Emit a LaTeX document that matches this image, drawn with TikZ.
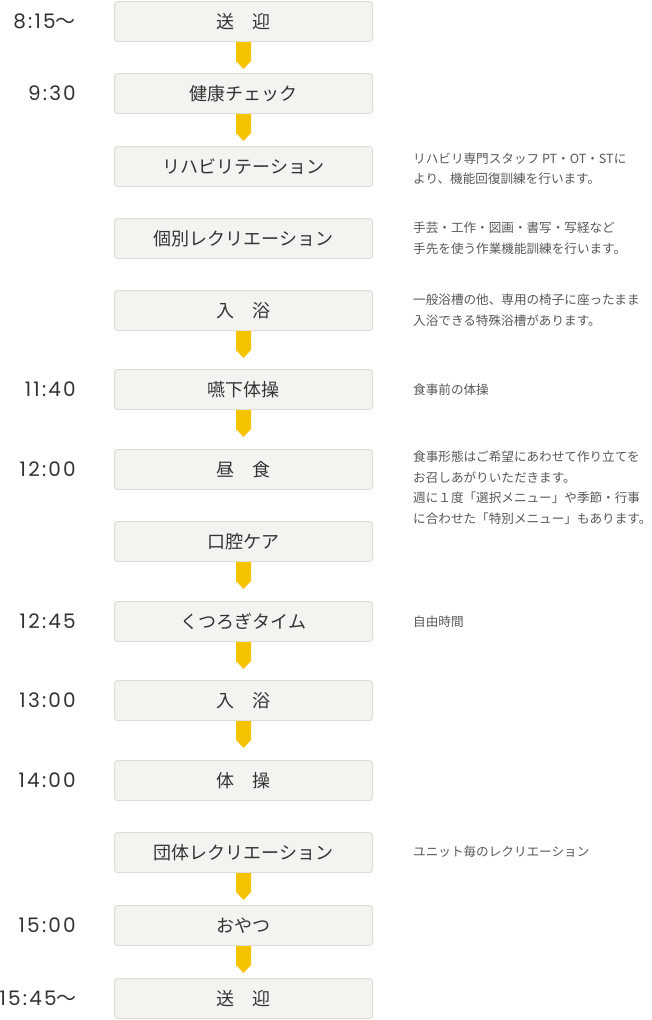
\documentclass[tikz,border=0pt]{standalone}
\usepackage{fontspec}
\setmainfont{Noto Sans CJK JP}
\newfontfamily\jpfont{Noto Sans CJK JP}
\newfontfamily\timefont[LetterSpace=11]{Poppins}
\usetikzlibrary{arrows.meta}
\definecolor{boxfill}{HTML}{F4F3EF}
\definecolor{boxline}{HTML}{DFDDD7}
\definecolor{arrowc}{HTML}{F6C300}
\definecolor{txt}{HTML}{333333}
\definecolor{desc}{HTML}{585858}
\tikzset{
    BX/.style ={rectangle, rounded corners=3pt, draw=boxline, fill=boxfill, line width=1pt,
                minimum width=258pt, minimum height=40pt, inner sep=0pt, text=txt,
                font=\fontsize{18}{18}\selectfont},
    TM/.style ={anchor=east, inner sep=0pt, text=txt, font=\timefont\fontsize{20}{20}\selectfont},
    DS/.style ={anchor=west, align=left, inner sep=0pt, text=desc, font=\fontsize{12.6}{20.5}\selectfont},
    AR/.style ={fill=arrowc, to path={(\tikztostart.south) ++(-7.5,0) -- ++(15,0) -- ++(0,19)
                -- ++(-7.5,8) -- ++(-7.5,-8) -- cycle}}}

\begin{document}
\begin{tikzpicture}[x=1pt,y=-1pt]
    \useasboundingbox (0,0) rectangle (652,1020);
        \node[BX] (1) at(243.5,21.5){送　迎};
        \node[BX] (2) at(243.5,93.5){健康チェック};
        \node[BX] (3) at(243.5,166.5){リハビリテーション};
        \node[BX] (4) at(243.5,238.5){個別レクリエーション};
        \node[BX] (5) at(243.5,310.5){入　浴};
        \node[BX] (6) at(243.5,389.5){嚥下体操};
        \node[BX] (7) at(243.5,469.5){昼　食};
        \node[BX] (8) at(243.5,541.5){口腔ケア};
        \node[BX] (9) at(243.5,621.5){くつろぎタイム};
        \node[BX] (10) at(243.5,700.5){入　浴};
        \node[BX] (11) at(243.5,780.5){体　操};
        \node[BX] (12) at(243.5,852.5){団体レクリエーション};
        \node[BX] (13) at(243.5,925.5){おやつ};
        \node[BX] (14) at(243.5,998.5){送　迎};
        % times
        \node[TM] (t1) at(76,21.5){8:15{\jpfont 〜}};
        \node[TM] (t2) at(76,93.5){9:30};
        \node[TM] (t6) at(76,389.5){11:40};
        \node[TM] (t7) at(76,469.5){12:00};
        \node[TM] (t9) at(76,621.5){12:45};
        \node[TM] (t10) at(76,700.5){13:00};
        \node[TM] (t11) at(76,780.5){14:00};
        \node[TM] (t13) at(76,925.5){15:00};
        \node[TM] (t14) at(77,998.5){15:45{\jpfont 〜}};
        % notes
        \node[DS] (d3) at(413,168.5){リハビリ専門スタッフ PT・OT・STに\\より、機能回復訓練を行います。};
        \node[DS] (d4) at(413,238){手芸・工作・図画・書写・写経など\\手先を使う作業機能訓練を行います。};
        \node[DS] (d5) at(413,310){一般浴槽の他、専用の椅子に座ったまま\\入浴できる特殊浴槽があります。};
        \node[DS] (d6) at(413,389.5){食事前の体操};
        \node[DS] (d7) at(413,487.5){食事形態はご希望にあわせて作り立てを\\お召しあがりいただきます。\\週に１度「選択メニュー」や季節・行事\\に合わせた「特別メニュー」もあります。};
        \node[DS] (d9) at(413,621.5){自由時間};
        \node[DS] (d12) at(413,852){ユニット毎のレクリエーション};
        % arrows
        \fill[AR] (1) to (2);
        \fill[AR] (2) to (3);
        \fill[AR] (5) to (6);
        \fill[AR] (6) to (7);
        \fill[AR] (8) to (9);
        \fill[AR] (9) to (10);
        \fill[AR] (10) to (11);
        \fill[AR] (12) to (13);
        \fill[AR] (13) to (14);
    \end{tikzpicture}
\end{document}
